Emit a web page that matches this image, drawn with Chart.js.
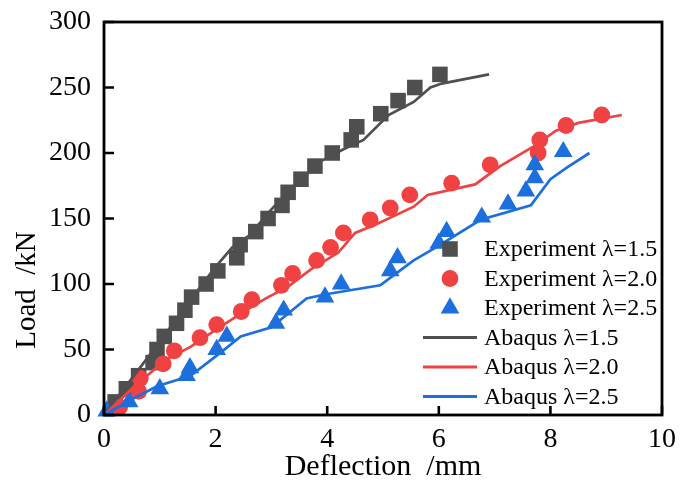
<!DOCTYPE html>
<html>
<head>
<meta charset="utf-8">
<script src="https://cdn.jsdelivr.net/npm/chart.js@4/dist/chart.umd.min.js"></script>
<style>
html,body{margin:0;padding:0;background:#fff;}
#wrap{width:680px;height:485px;}
</style>
</head>
<body>
<div id="wrap"><canvas id="c" width="680" height="485"></canvas></div>
<script>
const xTicks = [0, 2, 4, 6, 8, 10];
const yTicks = [0, 50, 100, 150, 200, 250, 300];

const exp15X = [0.2,0.4,0.62,0.88,0.95,1.08,1.3,1.45,1.57,1.83,2.04,2.38,2.44,2.72,2.94,3.19,3.3,3.53,3.78,4.09,4.43,4.53,4.96,5.27,5.57,6.02];
const exp15Y = [10,20,30,40,50,60,70,80,90,100,110,120,130,140,150,160,170,180,190,200,210,220,230,240,250,260];

const exp20X = [0.28,0.62,0.65,1.06,1.26,1.72,2.02,2.46,2.65,3.18,3.38,3.81,4.06,4.29,4.77,5.13,5.48,6.23,6.92,7.78,7.81,8.28,8.92];
const exp20Y = [6,18,28,39,49,59,69,79,88,99,108,118,128,139,149,158,168,177,191,200,210,221,229];

const exp25X = [0.05,0.45,1.0,1.48,1.54,2.02,2.2,3.08,3.22,3.96,4.25,5.13,5.26,6.0,6.14,6.77,7.24,7.56,7.72,7.72,8.23];
const exp25Y = [3,10,20,30,36,50,60,70,80,90,100,110,120,131,140,151,161,171,181,191,201];

const aba15X = [0,0.5,1.0,1.5,2.0,2.3,2.6,3.0,3.5,3.9,4.3,4.65,5.1,5.55,5.85,6.05,6.9];
const aba15Y = [0,28,56,85,113,128,137,157,179,194,203,210,229,239,250,253,260];

const aba20X = [0,0.5,1.1,1.55,2.0,2.55,2.9,3.3,3.7,4.2,4.5,4.9,5.55,5.8,6.65,7.1,7.7,8.1,8.5,9.28];
const aba20Y = [0,20,42,52,65,80,89,98,111,124,139,146,159,168,176,190,205,217,223,229];

const aba25X = [0,0.5,0.95,1.55,2.1,2.45,3.0,3.63,3.95,4.95,5.2,5.55,5.95,6.75,7.65,8.0,8.3,8.7];
const aba25Y = [0,12,22,30,48,60,67,89,92,99,107,118,128,149,160,180,189,200];

const seriesNames = ['Experiment \u03bb=1.5','Experiment \u03bb=2.0','Experiment \u03bb=2.5','Abaqus \u03bb=1.5','Abaqus \u03bb=2.0','Abaqus \u03bb=2.5'];

const GRAY = '#4f4f4f', RED = '#f04242', BLUE = '#1c6fdd';
const SERIF = '"Liberation Serif", "Times New Roman", serif';

function pts(xs, ys){ return xs.map((x,i)=>({x:x, y:ys[i]})); }

function markerSet(label, xs, ys, color, style, radius, order){
  return {label, data: pts(xs,ys), showLine:false, pointStyle:style, pointRadius:radius,
    backgroundColor:color, borderColor:color, pointBorderWidth:0, order, clip:false};
}
function lineSet(label, xs, ys, color, order){
  return {label, data: pts(xs,ys), showLine:true, pointRadius:0, borderColor:color,
    backgroundColor:color, borderWidth:2.7, tension:0, order, clip:false};
}

const datasets = [
  markerSet(seriesNames[0], exp15X, exp15Y, GRAY, 'rect', 11, 5),
  markerSet(seriesNames[1], exp20X, exp20Y, RED, 'circle', 8.4, 4),
  markerSet(seriesNames[2], exp25X, exp25Y, BLUE, 'triangle', 10.8, 3),
  lineSet(seriesNames[3], aba15X, aba15Y, GRAY, 2),
  lineSet(seriesNames[4], aba20X, aba20Y, RED, 1),
  lineSet(seriesNames[5], aba25X, aba25Y, BLUE, 0)
];

const framePlugin = {
  id:'frame',
  afterDraw(chart){
    const ctx = chart.ctx, a = chart.chartArea;
    const xs = chart.scales.x, ys = chart.scales.y;
    ctx.save();
    ctx.strokeStyle = '#000';
    ctx.lineWidth = 2.8;
    ctx.strokeRect(a.left, a.top, a.right - a.left, a.bottom - a.top);
    ctx.lineWidth = 2.6;
    ctx.beginPath();
    xTicks.forEach(v => {
      const px = xs.getPixelForValue(v);
      ctx.moveTo(px, a.bottom); ctx.lineTo(px, a.bottom - 9);
    });
    yTicks.forEach(v => {
      const py = ys.getPixelForValue(v);
      ctx.moveTo(a.left, py); ctx.lineTo(a.left + 10, py);
    });
    ctx.stroke();

    // axis titles
    ctx.fillStyle = '#000';
    ctx.textAlign = 'center';
    ctx.textBaseline = 'middle';
    ctx.font = '30px ' + SERIF;
    ctx.fillText('Deflection  /mm', (a.left + a.right)/2, 467);
    ctx.font = '29px ' + SERIF;
    ctx.save();
    ctx.translate(27, 290);
    ctx.rotate(-Math.PI/2);
    ctx.fillText('Load  /kN', 0, 0);
    ctx.restore();

    // legend
    ctx.font = '24px ' + SERIF;
    ctx.textAlign = 'left';
    const rows = [249, 278.5, 308, 337.5, 367, 396.5];
    chart.data.datasets.forEach((ds, i) => {
      const y = rows[i];
      if (ds.showLine) {
        ctx.strokeStyle = ds.borderColor;
        ctx.lineWidth = 2.8;
        ctx.beginPath(); ctx.moveTo(423, y); ctx.lineTo(477, y); ctx.stroke();
      } else {
        ctx.fillStyle = ds.backgroundColor;
        const opts = {pointStyle: ds.pointStyle, rotation:0, borderWidth:0, radius: ds.pointRadius};
        ctx.beginPath();
        Chart.helpers.drawPoint(ctx, opts, 450, y);
      }
      ctx.fillStyle = '#000';
      ctx.fillText(ds.label, 484, y + 1);
    });
    ctx.restore();
  }
};

new Chart(document.getElementById('c'), {
  type:'scatter',
  data:{datasets},
  options:{
    responsive:false,
    animation:false,
    devicePixelRatio:1,
    layout:{padding:{top:22, right:18, left:0, bottom:0}},
    plugins:{legend:{display:false}, tooltip:{enabled:false}},
    scales:{
      x:{type:'linear', min:0, max:10,
        afterBuildTicks(s){ s.ticks = xTicks.map(v=>({value:v})); },
        afterFit(s){ s.height = 70; s.paddingLeft = 0; s.paddingRight = 0; s.paddingTop = 0; s.paddingBottom = 0; },
        grid:{display:false, drawTicks:false}, border:{display:false},
        ticks:{font:{family:SERIF, size:28}, color:'#000', padding:8, maxRotation:0}
      },
      y:{type:'linear', min:0, max:300,
        afterBuildTicks(s){ s.ticks = yTicks.map(v=>({value:v})); },
        afterFit(s){ s.width = 104; s.paddingLeft = 0; s.paddingRight = 0; s.paddingTop = 0; s.paddingBottom = 0; },
        grid:{display:false, drawTicks:false}, border:{display:false},
        ticks:{font:{family:SERIF, size:28}, color:'#000', padding:13}
      }
    }
  },
  plugins:[framePlugin]
});
</script>
</body>
</html>
